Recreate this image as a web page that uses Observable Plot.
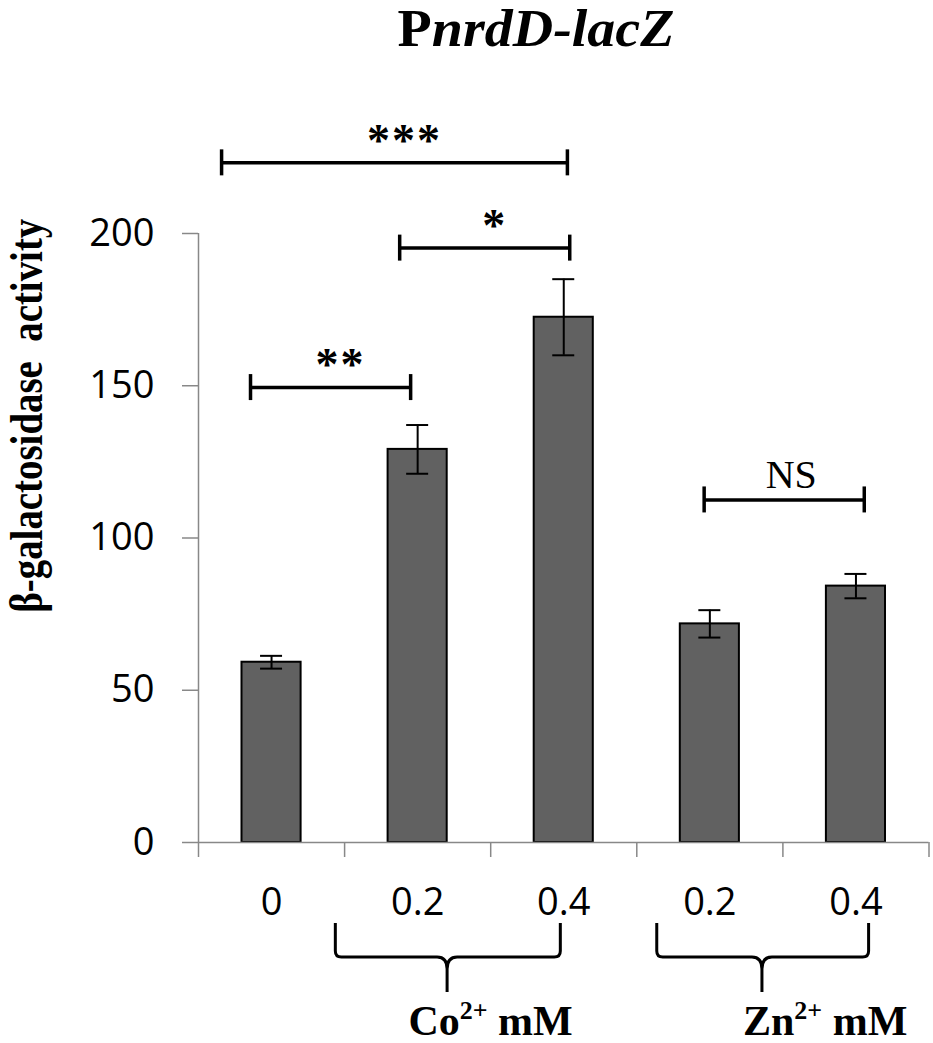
<!DOCTYPE html>
<html>
<head>
<meta charset="utf-8">
<script src="https://cdn.jsdelivr.net/npm/d3@7"></script>
<script src="https://cdn.jsdelivr.net/npm/@observablehq/plot@0.6"></script>
<style>
  html, body { margin: 0; padding: 0; background: #fff; overflow: hidden; }
  .stars text { letter-spacing: 2px; }
</style>
</head>
<body>
<div id="chart"></div>
<script>
// ---- data ----
const categories = ["0", "0.2", "0.4", "0.2", "0.4"];
const activity = [59.2, 129.1, 172.5, 71.8, 84.2];
const errors = [2.1, 8.0, 12.5, 4.5, 4.0];
const yTicks = [0, 50, 100, 150, 200];
const bracketFrom = [-0.342, 0.877, -0.144, 2.961];
const bracketTo = [2.025, 2.041, 0.952, 4.057];
const bracketLevel = [223.2, 195.2, 149.4, 112.5];
const bracketLabels = ["***", "*", "**", "NS"];
const groupIons = ["Co", "Zn"];
const groupFrom = [0.44, 2.64];
const groupTo = [1.98, 4.09];
const groupTip = [1.205, 3.36];
const groupLabelAt = [0.94, 3.23];
const title = ["P", "nrdD-lacZ"];
const yLabel = "β-galactosidase  activity";

const bars = categories.map((c, i) => ({i, label: c, value: activity[i], err: errors[i]}));
const brackets = bracketLabels.map((l, k) => ({from: bracketFrom[k], to: bracketTo[k], y: bracketLevel[k], label: l}));
const boundaries = d3.range(categories.length + 1).map(k => k - 0.5);

const serif = "'Liberation Serif', 'Times New Roman', serif";

const plot = Plot.plot({
  width: 933,
  height: 1043,
  marginTop: 233,
  marginBottom: 201,
  marginLeft: 198,
  marginRight: 4.5,
  style: {fontFamily: "'Open Sans', sans-serif", fontSize: "38px", color: "black", background: "white", overflow: "visible"},
  x: {domain: [-0.5, categories.length - 0.5], axis: null},
  y: {domain: [0, 200], axis: null},
  marks: [
    // y axis
    Plot.axisY({ticks: yTicks, tickSize: 16, tickPadding: 28, stroke: "#888", strokeWidth: 1.5, fill: "black", label: null, fontSize: 38}),
    Plot.ruleX([-0.5], {y1: 0, y2: 200, stroke: "#888", strokeWidth: 1.5}),
    // x axis boundary ticks
    Plot.axisX({ticks: boundaries, tickSize: 15, tickFormat: () => "", stroke: "#888", strokeWidth: 1.5, label: null}),
    // x axis labels
    Plot.axisX({ticks: d3.range(categories.length), tickSize: 0, tickPadding: 46, tickFormat: i => categories[i], fill: "black", label: null, fontSize: 38}),
    // bars
    Plot.rectY(bars, {x1: d => d.i - 0.5, x2: d => d.i + 0.5, y1: 0, y2: "value", insetLeft: 43.5, insetRight: 43.5, fill: "#616161", stroke: "black", strokeWidth: 2}),
    Plot.ruleY([0], {x1: -0.5, x2: categories.length - 0.5, stroke: "#888", strokeWidth: 1.5}),
    // error bars
    Plot.ruleX(bars, {x: "i", y1: d => d.value - d.err, y2: d => d.value + d.err, stroke: "black", strokeWidth: 2}),
    Plot.ruleY(bars, {x1: "i", x2: "i", y: d => d.value + d.err, insetLeft: -11, insetRight: -11, stroke: "black", strokeWidth: 2}),
    Plot.ruleY(bars, {x1: "i", x2: "i", y: d => d.value - d.err, insetLeft: -11, insetRight: -11, stroke: "black", strokeWidth: 2}),
    // significance brackets
    Plot.ruleY(brackets, {x1: "from", x2: "to", y: "y", stroke: "black", strokeWidth: 3.5}),
    Plot.ruleX(brackets, {x: "from", y1: "y", y2: "y", insetTop: -13, insetBottom: -13, stroke: "black", strokeWidth: 3.5}),
    Plot.ruleX(brackets, {x: "to", y1: "y", y2: "y", insetTop: -13, insetBottom: -13, stroke: "black", strokeWidth: 3.5}),
    Plot.text(brackets.filter(b => b.label !== "NS"), {x: d => (d.from + d.to) / 2, y: "y", text: "label", dx: 10, dy: -22, fontFamily: serif, fontSize: 46, fontWeight: "bold", fill: "black", className: "stars"}),
    Plot.text(brackets.filter(b => b.label === "NS"), {x: d => (d.from + d.to) / 2, y: "y", text: "label", dx: 7, dy: -25, fontFamily: serif, fontSize: 40, fill: "black"})
  ]
});

document.getElementById("chart").appendChild(plot);

const svg = d3.select(plot);
const xs = plot.scale("x");
const ys = plot.scale("y");
const y0 = ys.apply(0);

// title
const t = svg.append("text")
  .attr("transform", "translate(536, 46) scale(1.12, 1.05)")
  .attr("text-anchor", "middle")
  .style("font-family", serif).style("font-size", "50px").style("font-weight", "bold").attr("fill", "black");
t.append("tspan").text(title[0]);
t.append("tspan").style("font-style", "italic").text(title[1]);

// y label
svg.append("text")
  .attr("transform", `translate(42, ${ys.apply(140)}) rotate(-90) scale(0.845, 1)`)
  .attr("text-anchor", "middle")
  .style("font-family", serif).style("font-size", "46px").style("font-weight", "bold")
  .attr("fill", "black")
  .text(yLabel);

// group braces and labels
groupIons.forEach((ion, k) => {
  const xL = xs.apply(groupFrom[k]), xR = xs.apply(groupTo[k]), xP = xs.apply(groupTip[k]);
  const yT = y0 + 81, yH = y0 + 115, yB = y0 + 150;
  const p = `M${xL},${yT} L${xL},${yH - 6} Q${xL},${yH} ${xL + 6},${yH} L${xP - 10},${yH} Q${xP},${yH} ${xP},${yH + 12} L${xP},${yB}` +
            ` M${xR},${yT} L${xR},${yH - 6} Q${xR},${yH} ${xR - 6},${yH} L${xP + 10},${yH} Q${xP},${yH} ${xP},${yH + 12}`;
  svg.append("path").attr("d", p).attr("fill", "none").attr("stroke", "black").attr("stroke-width", 3);
  const lab = svg.append("text")
    .attr("x", xs.apply(groupLabelAt[k])).attr("y", y0 + 193)
    .attr("text-anchor", "start")
    .style("font-family", serif).style("font-size", "42px").style("font-weight", "bold").attr("fill", "black");
  lab.append("tspan").text(ion);
  lab.append("tspan").attr("dy", -16).style("font-size", "26px").text("2+");
  lab.append("tspan").attr("dy", 16).text(" mM");
});
</script>
</body>
</html>
